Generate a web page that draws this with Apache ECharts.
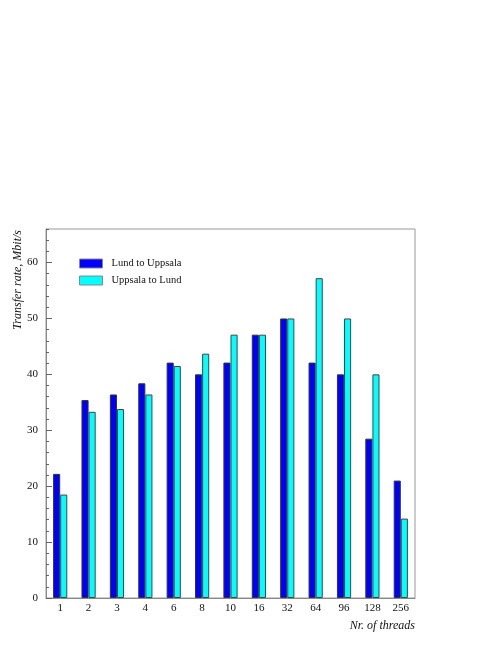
<!DOCTYPE html>
<html>
<head>
<meta charset="utf-8">
<script src="https://cdn.jsdelivr.net/npm/echarts@6/dist/echarts.min.js"></script>
<style>
  html, body { margin: 0; padding: 0; background: #fff; }
  #chart { width: 498px; height: 645px; }
</style>
</head>
<body>
<div id="chart"></div>
<script>
// number of threads (categories)
var threads = ["1", "2", "3", "4", "6", "8", "10", "16", "32", "64", "96", "128", "256"];
// transfer rates, Mbit/s
var lundToUppsala = [22.2, 35.4, 36.4, 38.4, 42.1, 40.0, 42.1, 47.1, 50.0, 42.1, 40.0, 28.5, 21.0];
var uppsalaToLund = [18.5, 33.3, 33.8, 36.4, 41.5, 43.7, 47.1, 47.1, 50.0, 57.2, 50.0, 40.0, 14.2];

var serif = "Liberation Serif";
var chart = echarts.init(document.getElementById("chart"));

chart.setOption({
  animation: false,
  grid: {
    left: 46, right: 83, top: 229, bottom: 47,
    show: true, borderColor: "#999", borderWidth: 1
  },
  legend: {
    orient: "vertical",
    left: 79, top: 258, padding: 0,
    icon: "rect",
    itemWidth: 23, itemHeight: 9, itemGap: 6,
    itemStyle: { borderColor: "#888", borderWidth: 1 },
    textStyle: { fontFamily: serif, fontSize: 10.5, color: "#111", padding: [0, 0, 0, 4] },
    data: ["Lund to Uppsala", "Uppsala to Lund"]
  },
  xAxis: {
    type: "category",
    data: threads,
    axisLine: { lineStyle: { color: "#888" } },
    axisTick: { show: false },
    axisLabel: { fontFamily: serif, fontSize: 11, color: "#111", margin: 5 }
  },
  yAxis: [
    {
      // major ticks with labels
      type: "value", min: 0, max: 66, interval: 10,
      axisLine: { show: true, lineStyle: { color: "#888" } },
      axisTick: { show: true, inside: true, length: 6, lineStyle: { color: "#666" } },
      axisLabel: { fontFamily: serif, fontSize: 11, color: "#111", margin: 8, showMaxLabel: false },
      splitLine: { show: false }
    },
    {
      // minor ticks only
      type: "value", min: 0, max: 66, interval: 2, position: "left",
      axisLine: { show: false },
      axisTick: { show: true, inside: true, length: 3, lineStyle: { color: "#666" } },
      axisLabel: { show: false },
      splitLine: { show: false }
    }
  ],
  series: [
    {
      name: "Lund to Uppsala", type: "bar", data: lundToUppsala,
      barGap: 0, barCategoryGap: "50%",
      itemStyle: { color: "#0000ff", borderColor: "#333", borderWidth: 1 }
    },
    {
      name: "Uppsala to Lund", type: "bar", data: uppsalaToLund,
      itemStyle: { color: "#00ffff", borderColor: "#444", borderWidth: 1 }
    }
  ],
  graphic: [
    {
      type: "text", x: 18, y: 230, rotation: Math.PI / 2,
      style: {
        text: "Transfer rate, Mbit/s", align: "right", verticalAlign: "middle",
        font: "italic 12px 'Liberation Serif'", fill: "#111"
      }
    },
    {
      type: "text", x: 415, y: 626,
      style: {
        text: "Nr. of threads", align: "right", verticalAlign: "middle",
        font: "italic 12px 'Liberation Serif'", fill: "#111"
      }
    }
  ]
});
</script>
</body>
</html>
